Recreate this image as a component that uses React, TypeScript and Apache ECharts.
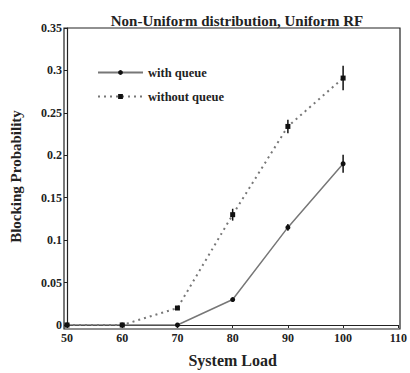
import React, { useEffect, useRef } from "react";
import * as echarts from "echarts";

const loads = [50, 60, 70, 80, 90, 100];
const withQueue = [0, 0, 0, 0.03, 0.115, 0.19];
const withQueueErr = [0, 0, 0, 0.002, 0.004, 0.0105];
const withoutQueue = [0, 0, 0.02, 0.13, 0.234, 0.291];
const withoutQueueErr = [0, 0, 0.002, 0.007, 0.008, 0.0145];
const xTicks = [50, 60, 70, 80, 90, 100, 110];

const FONT = "'Liberation Serif', 'DejaVu Serif', serif";

export default function App() {
  const ref = useRef<HTMLDivElement>(null);
  useEffect(() => {
    if (!ref.current) return;
    const chart = echarts.init(ref.current, undefined, { renderer: "svg" });
    const errSeries = (vals: number[], errs: number[], name: string) => ({
      type: "custom",
      name: name + "-err",
      silent: true,
      z: 5,
      data: loads.map((x, i) => [x, vals[i] - errs[i], vals[i] + errs[i]]),
      renderItem: (params: any, api: any) => {
        const x = api.value(0);
        const lo = api.coord([x, api.value(1)]);
        const hi = api.coord([x, api.value(2)]);
        return {
          type: "line",
          shape: { x1: lo[0], y1: lo[1], x2: hi[0], y2: hi[1] },
          style: { stroke: "#111", lineWidth: 1.5 },
        };
      },
    });
    chart.setOption({
      animation: false,
      backgroundColor: "#fff",
      title: {
        text: "Non-Uniform distribution, Uniform RF",
        left: 232,
        textAlign: "center",
        top: 8,
        textStyle: { fontFamily: FONT, fontWeight: "bold", fontSize: 15, color: "#222" },
      },
      grid: { left: 64, right: 10, top: 28, bottom: 44 },
      legend: {
        orient: "vertical",
        left: 92,
        top: 61,
        itemWidth: 45,
        itemHeight: 6,
        itemGap: 11,
        textStyle: { fontFamily: FONT, fontWeight: "bold", fontSize: 12.5, color: "#222" },
        data: ["with queue", "without queue"],
      },
      xAxis: {
        type: "value",
        min: 50,
        max: 110,
        interval: 10,
        name: "System Load",
        nameLocation: "middle",
        nameGap: 27,
        nameTextStyle: { fontFamily: FONT, fontWeight: "bold", fontSize: 16, color: "#222" },
        axisLine: { show: true, lineStyle: { color: "#222", width: 1.2 } },
        axisTick: { show: true, length: 3, lineStyle: { color: "#222" } },
        axisLabel: {
          fontFamily: FONT,
          fontWeight: "bold",
          fontSize: 12,
          color: "#222",
          margin: 7,
          formatter: (v: number) => (xTicks.includes(v) ? String(v) : ""),
        },
        splitLine: { show: false },
      },
      yAxis: {
        type: "value",
        min: 0,
        max: 0.35,
        interval: 0.05,
        name: "Blocking Probability",
        nameLocation: "middle",
        nameGap: 44,
        nameTextStyle: { fontFamily: FONT, fontWeight: "bold", fontSize: 15, color: "#222" },
        axisLine: { show: true, lineStyle: { color: "#222", width: 1.2 } },
        axisTick: { show: true, length: 3, lineStyle: { color: "#222" } },
        axisLabel: {
          fontFamily: FONT,
          fontWeight: "bold",
          fontSize: 12,
          color: "#222",
          margin: 5,
          formatter: (v: number) => String(Math.round(v * 100) / 100),
        },
        splitLine: { show: false },
      },
      series: [
        {
          name: "with queue",
          type: "line",
          data: loads.map((x, i) => [x, withQueue[i]]),
          symbol: "circle",
          symbolSize: 5,
          itemStyle: { color: "#111" },
          lineStyle: { color: "#777", width: 1.5, type: "solid" },
          z: 3,
        },
        {
          name: "without queue",
          type: "line",
          data: loads.map((x, i) => [x, withoutQueue[i]]),
          symbol: "rect",
          symbolSize: 5,
          itemStyle: { color: "#111" },
          lineStyle: { color: "#777", width: 2, type: [2, 4] },
          z: 3,
        },
        errSeries(withQueue, withQueueErr, "with queue"),
        errSeries(withoutQueue, withoutQueueErr, "without queue"),
      ],
      graphic: [
        {
          type: "rect",
          shape: { x: 64, y: 28, width: 336, height: 301 },
          style: { fill: "none", stroke: "#222", lineWidth: 1.2 },
          silent: true,
        },
      ],
    });
    return () => chart.dispose();
  }, []);
  return (
    <div
      ref={ref}
      style={{ position: "fixed", left: 0, top: 0, width: 410, height: 373 }}
    />
  );
}
